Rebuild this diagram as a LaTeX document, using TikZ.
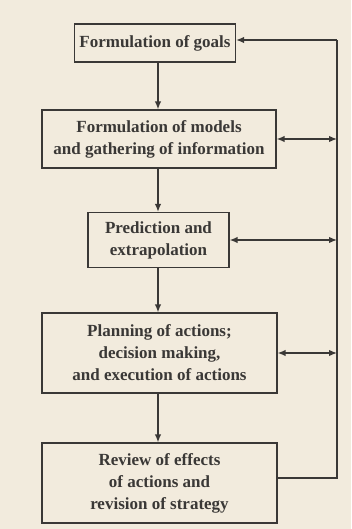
\documentclass[tikz,border=0pt]{standalone}
\usepackage{fontspec}
\setmainfont{Liberation Serif}
\usetikzlibrary{arrows.meta}
\definecolor{paper}{HTML}{F2EBDD}
\definecolor{ink}{HTML}{3A3836}
\tikzset{
  stage/.style={draw=ink, line width=1.2pt, text=ink, align=center,
    font=\fontsize{17}{22}\selectfont\bfseries, inner sep=0pt},
  flow/.style={draw=ink, line width=1.4pt},
}
\begin{document}
\begin{tikzpicture}[x=1pt,y=-1pt,>={Latex[length=8pt,width=6.5pt]}]
\useasboundingbox[fill=paper] (0,0) rectangle (351,529);
\node[stage, minimum width=161, minimum height=38] (goals) at (155,43) {Formulation of goals};
\node[stage, minimum width=234, minimum height=58] (models) at (159,139) {Formulation of models\\and gathering of information};
\node[stage, minimum width=141, minimum height=55] (predict) at (158.5,240) {Prediction and\\extrapolation};
\node[stage, minimum width=235, minimum height=80] (plan) at (159.5,353) {Planning of actions;\\decision making,\\and execution of actions};
\node[stage, minimum width=235, minimum height=80] (review) at (159.5,483) {Review of effects\\of actions and\\revision of strategy};

\coordinate (spine) at (158,0);
\coordinate (railtop) at (337,40);
\coordinate (railbot) at (337,478);

\path[flow,->] (goals.south -| spine) -- (models.north -| spine);
\path[flow,->] (models.south -| spine) -- (predict.north -| spine);
\path[flow,->] (predict.south -| spine) -- (plan.north -| spine);
\path[flow,->] (plan.south -| spine) -- (review.north -| spine);

\path[flow] (review.east |- railbot) -- (railbot) -- (railtop);
\path[flow,->] (railtop) -- (goals.east |- railtop);

\path[flow,<->] (models.east) -- (models.east -| railtop);
\path[flow,<->] (predict.east) -- (predict.east -| railtop);
\path[flow,<->] (plan.east) -- (plan.east -| railtop);
\end{tikzpicture}
\end{document}
